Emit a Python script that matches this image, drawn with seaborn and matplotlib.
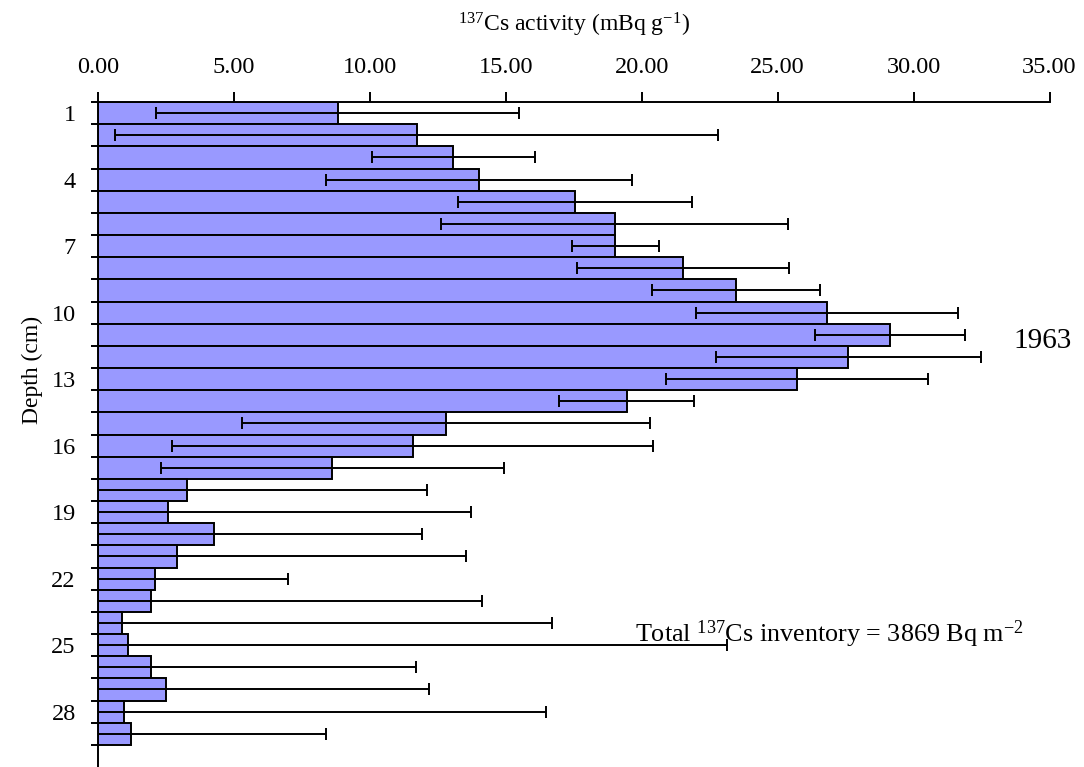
import numpy as np
import pandas as pd
import matplotlib
matplotlib.use("Agg")
import matplotlib.pyplot as plt
from matplotlib.ticker import FormatStrFormatter
import seaborn as sns

depth = list(range(1, 30))
activity = [8.81, 11.72, 13.07, 14.02, 17.54, 19.00, 19.02, 21.53, 23.47, 26.81,
            29.14, 27.60, 25.71, 19.45, 12.80, 11.58, 8.61, 3.29, 2.56, 4.25,
            2.89, 2.08, 1.94, 0.87, 1.09, 1.94, 2.49, 0.94, 1.20]
error = [6.66, 11.10, 3.00, 5.63, 4.30, 6.37, 1.60, 3.90, 3.08, 4.82,
         2.75, 4.88, 4.81, 2.49, 7.49, 8.85, 6.31, 8.82, 11.16, 7.66,
         10.65, 4.92, 12.19, 15.83, 22.04, 9.76, 9.69, 15.54, 7.20]
x_ticks = [0, 5, 10, 15, 20, 25, 30, 35]
depth_labels = depth[::3]

sns.set_style("white")
plt.rcParams['font.family'] = ['Liberation Serif', 'DejaVu Serif']
plt.rcParams['mathtext.fontset'] = 'custom'
plt.rcParams['mathtext.rm'] = 'Liberation Serif'
plt.rcParams['mathtext.it'] = 'Liberation Serif:italic'
for k in ['text.color', 'axes.labelcolor', 'xtick.color', 'ytick.color', 'axes.edgecolor']:
    plt.rcParams[k] = 'black'

fig = plt.figure(figsize=(10.84, 7.67), dpi=100)
ax = fig.add_axes([0.0904, 0.0, 0.8778, 0.867])

df = pd.DataFrame({'depth': [str(d) for d in depth], 'activity': activity})
sns.barplot(data=df, x='activity', y='depth', orient='h', color='#9999FF',
            saturation=1, width=1.0, edgecolor='black', linewidth=1.4,
            errorbar=None, ax=ax)
pos = np.arange(len(depth))
ax.errorbar(activity, pos, xerr=error, fmt='none', ecolor='black',
            elinewidth=1.4, capsize=4.5, capthick=1.4, zorder=3)

ax.set_xlim(0, 35)
ax.set_ylim(len(depth) + 0.5, -0.5)

ax.xaxis.tick_top()
ax.xaxis.set_label_position('top')
ax.set_xticks(x_ticks)
ax.xaxis.set_major_formatter(FormatStrFormatter('%.2f'))
ax.tick_params(axis='x', which='major', direction='out', length=7, width=1.4,
               pad=10.5, labelsize=17.5, colors='black', top=True, bottom=False)

ax.set_yticks([depth.index(d) for d in depth_labels])
ax.set_yticklabels([str(d) for d in depth_labels])
ax.set_yticks(np.arange(-0.5, len(depth), 1.0), minor=True)
ax.tick_params(axis='y', which='major', length=0, pad=16, labelsize=17.5, colors='black')
ax.tick_params(axis='y', which='minor', direction='out', length=5, width=1.4,
               left=True, color='black')

for s in ['right', 'bottom']:
    ax.spines[s].set_visible(False)
for s in ['top', 'left']:
    ax.spines[s].set_visible(True)
    ax.spines[s].set_color('black')
    ax.spines[s].set_linewidth(1.4)

ax.set_xlabel(r'$^{\mathrm{137}}$Cs activity (mBq g$^{\mathrm{-1}}$)', fontsize=17, labelpad=18.5)
ax.set_ylabel('Depth (cm)', fontsize=17)
ax.yaxis.set_label_coords(-0.058, 0.597)

ax.text(34.75, 10.3, '1963', fontsize=21, ha='center', va='center')
ax.text(26.9, 23.5, r'Total $^{\mathrm{137}}$Cs inventory = 3869 Bq m$^{\mathrm{-2}}$',
        fontsize=18.8, ha='center', va='center')

fig.savefig('out.png', dpi=100)
